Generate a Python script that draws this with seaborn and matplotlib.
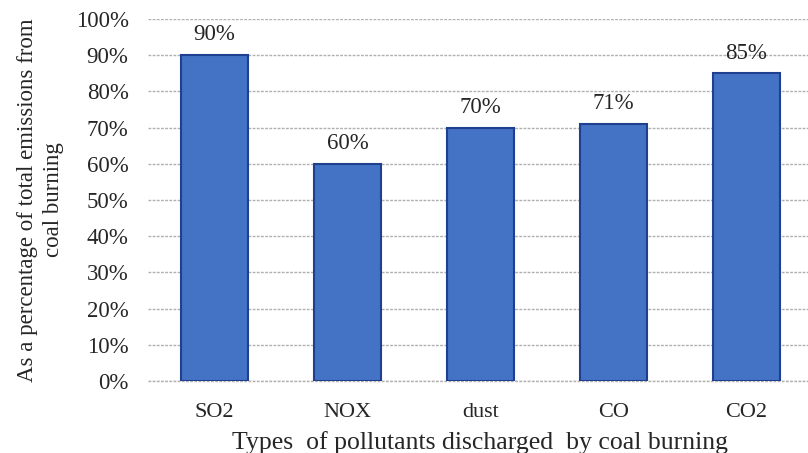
import matplotlib
matplotlib.use("Agg")
import matplotlib.pyplot as plt
import seaborn as sns
import pandas as pd

# data
pollutants = ["SO2", "NOX", "dust", "CO", "CO2"]
shares = [90, 60, 70, 71, 85]
y_ticks = list(range(0, 101, 10))

df = pd.DataFrame({"pollutant": pollutants, "share": shares})

sns.set_style("white")
plt.rcParams["font.family"] = ["Liberation Serif", "DejaVu Serif"]

fig = plt.figure(figsize=(8.08, 4.53), dpi=100)
ax = fig.add_axes([148 / 808, 72 / 453, 665 / 808, 362 / 453])

sns.barplot(data=df, x="pollutant", y="share", color="#4472C4",
            width=0.5, edgecolor="#1F3F8F", linewidth=1.5,
            saturation=1, ax=ax, zorder=3)

ax.set_ylim(0, 100)
ax.set_yticks(y_ticks)
ax.set_yticklabels([f"{t}%" for t in y_ticks], fontsize=16.5)
ax.tick_params(axis="x", labelsize=16, pad=16, length=0)
ax.tick_params(axis="y", length=0, pad=14)
ax.grid(axis="y", color="#B0B0B0", linewidth=1.0, linestyle=(0, (2, 1)), zorder=0)
for s in ax.spines.values():
    s.set_visible(False)
# bottom gridline sits on the axis edge, draw it unclipped
ax.axhline(0, color="#B0B0B0", linewidth=1.0, linestyle=(0, (2, 1)), zorder=1, clip_on=False)

for i, v in enumerate(shares):
    ax.annotate(f"{v}%", (i, v), xytext=(0, 7), textcoords="offset points",
                ha="center", va="bottom", fontsize=16.5)

ax.set_xlabel("Types  of pollutants discharged  by coal burning",
              fontsize=18.5, labelpad=6)
ax.set_ylabel("As a percentage of total emissions from\ncoal burning",
              fontsize=16.5, labelpad=8, linespacing=1.35)
ax.set_xlim(-0.5, 4.5)

fig.savefig("out.png", dpi=100)
